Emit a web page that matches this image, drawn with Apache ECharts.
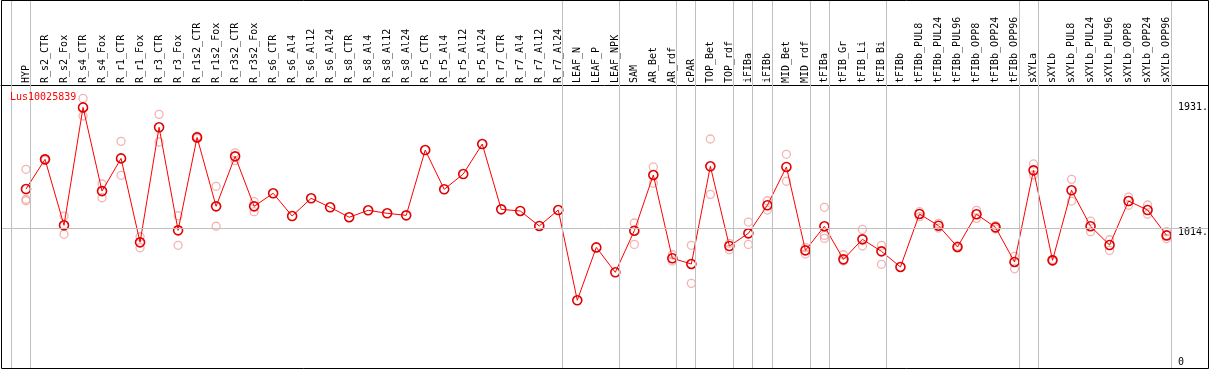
<!DOCTYPE html>
<html>
<head>
<meta charset="utf-8">
<script src="https://cdn.jsdelivr.net/npm/echarts@6/dist/echarts.min.js"></script>
<style>
html,body{margin:0;padding:0;background:#fff;}
#chart{width:1209px;height:370px;}
</style>
</head>
<body>
<div id="chart"></div>
<script>
const geneName = 'Lus10025839';
const categories = ['HYP','R_s2_CTR','R_s2_Fox','R_s4_CTR','R_s4_Fox','R_r1_CTR','R_r1_Fox','R_r3_CTR','R_r3_Fox','R_r1s2_CTR','R_r1s2_Fox','R_r3s2_CTR','R_r3s2_Fox','R_s6_CTR','R_s6_Al4','R_s6_Al12','R_s6_Al24','R_s8_CTR','R_s8_Al4','R_s8_Al12','R_s8_Al24','R_r5_CTR','R_r5_Al4','R_r5_Al12','R_r5_Al24','R_r7_CTR','R_r7_Al4','R_r7_Al12','R_r7_Al24','LEAF_N','LEAF_P','LEAF_NPK','SAM','AR_Bet','AR_rdf','cPAR','TOP_Bet','TOP_rdf','iFIBa','iFIBb','MID_Bet','MID_rdf','tFIBa','tFIB_Gr','tFIB_Li','tFIB_Bi','tFIBb','tFIBb_PUL8','tFIBb_PUL24','tFIBb_PUL96','tFIBb_OPP8','tFIBb_OPP24','tFIBb_OPP96','sXYLa','sXYLb','sXYLb_PUL8','sXYLb_PUL24','sXYLb_PUL96','sXYLb_OPP8','sXYLb_OPP24','sXYLb_OPP96'];
const meanValues = [1302,1520,1036,1901,1287,1527,911,1755,999,1681,1175,1542,1175,1271,1104,1234,1168,1095,1146,1124,1109,1588,1300,1412,1632,1153,1141,1031,1148,486,874,691,996,1405,794,752,1469,884,977,1183,1464,852,1029,786,933,845,730,1119,1033,877,1117,1021,767,1439,779,1293,1029,891,1214,1148,962];
const rep1 = [1447,1524,1104,1967,1339,1652,952,1850,1106,1674,1322,1568,1209,null,null,null,null,null,null,null,null,null,null,null,null,null,null,null,null,null,null,null,1053,1464,820,889,1669,904,1060,1216,1557,872,1168,820,1006,889,null,1136,1050,884,1146,1009,808,1486,785,1373,1067,930,1243,1185,989];
const rep2 = [1227,1512,970,1838,1238,1403,872,1647,889,1690,1029,1510,1136,null,null,null,null,null,null,null,null,null,null,null,null,null,null,null,null,null,null,null,896,1344,774,610,1263,857,896,1148,1359,825,962,774,884,750,null,1099,1016,870,1087,1034,717,1405,774,1214,989,852,1183,1117,938];
const rep3 = [1216,null,null,null,null,null,null,null,null,null,null,null,null,null,null,null,null,null,null,null,null,null,null,null,null,null,null,null,null,null,null,null,null,null,null,null,null,null,null,null,null,null,940,null,null,null,null,null,null,null,null,null,null,null,null,null,null,null,null,null,null];
const groupEnds = [-1,0,28,31,34,35,37,38,39,41,42,45,52,53,60];
const yTickValues = [0,1014,1931];
const yTickLabels = ['0','1014.','1931.'];
const refLineValue = 1014;

const SEP_OFFSET = 0.226;
const X_MIN = -1.3151, X_MAX = 62.178;
const Y_MIN = -11, Y_MAX = 2689;
const FONT = 'DejaVu Sans Mono';

const repData = [];
[rep1, rep2, rep3].forEach(arr => arr.forEach((v, i) => { if (v != null) repData.push([i, v]); }));

const tickLabel = v => yTickLabels[yTickValues.indexOf(v)];
const yAxisBase = {
  type: 'value', position: 'right', min: Y_MIN, max: Y_MAX,
  axisLine: {show: false}, axisTick: {show: false}, splitLine: {show: false}
};

const chart = echarts.init(document.getElementById('chart'), null, {renderer: 'canvas'});
chart.setOption({
  animation: false,
  backgroundColor: '#fff',
  grid: {left: 1, right: 1, top: 0, bottom: 2, containLabel: false, outerBoundsMode: 'none'},
  xAxis: {
    type: 'value', position: 'top', offset: -85, min: X_MIN, max: X_MAX,
    axisLine: {show: true, onZero: false, lineStyle: {color: '#000', width: 1}},
    axisTick: {show: false},
    splitLine: {show: false},
    axisLabel: {
      customValues: categories.map((_, i) => i),
      formatter: v => categories[Math.round(v)] || '',
      rotate: -90, margin: 2, fontFamily: FONT, fontSize: 10, color: '#000',
      showMinLabel: true, showMaxLabel: true, hideOverlap: false
    }
  },
  yAxis: [
    Object.assign({}, yAxisBase, {
      axisLabel: {
        inside: true, customValues: yTickValues.filter(v => v !== 0), align: 'left', margin: 30,
        verticalAlign: 'top', lineHeight: 9, formatter: tickLabel,
        fontSize: 10, fontFamily: FONT, color: '#000'
      }
    }),
    Object.assign({}, yAxisBase, {
      axisLabel: {
        inside: true, customValues: yTickValues.filter(v => v === 0), align: 'left', margin: 30,
        verticalAlign: 'bottom', lineHeight: 9, formatter: tickLabel,
        fontSize: 10, fontFamily: FONT, color: '#000'
      }
    })
  ],
  graphic: [
    {type: 'rect', shape: {x: 1.5, y: 0.5, width: 1207, height: 368}, style: {fill: null, stroke: '#000', lineWidth: 1}, z: 100, silent: true},
    {type: 'text', left: 10, top: 92, style: {text: geneName, fill: '#ff0000', font: '10px "DejaVu Sans Mono"'}, z: 100}
  ],
  series: [
    {
      type: 'scatter', data: repData, symbol: 'circle', symbolSize: 8, z: 2,
      itemStyle: {color: 'rgba(0,0,0,0)', borderColor: '#f0a0a0', borderWidth: 1.3},
      markLine: {
        silent: true, symbol: ['none', 'none'], label: {show: false},
        lineStyle: {color: '#c0c0c0', width: 1, type: 'solid'},
        data: groupEnds.map(g => ({xAxis: g + SEP_OFFSET})).concat([{yAxis: refLineValue}])
      }
    },
    {
      type: 'line', data: meanValues.map((v, i) => [i, v]), symbol: 'circle', symbolSize: 9, z: 3,
      lineStyle: {color: '#ff0000', width: 1},
      itemStyle: {color: 'rgba(0,0,0,0)', borderColor: '#e00000', borderWidth: 1.6}
    }
  ]
});
</script>
</body>
</html>
